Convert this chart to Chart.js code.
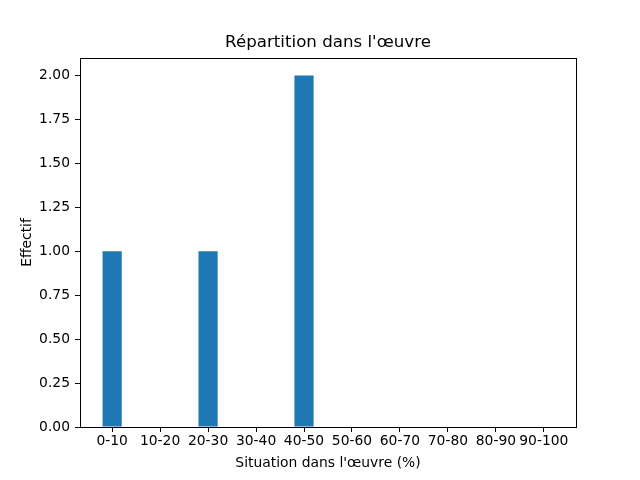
<!DOCTYPE html>
<html>
<head>
<meta charset="utf-8">
<script src="https://cdn.jsdelivr.net/npm/chart.js@4"></script>
<style>
  body { margin: 0; background: #fff; }
  #zone { width: 640px; height: 480px; }
</style>
</head>
<body>
<div id="zone"><canvas id="graphique" width="640" height="480"></canvas></div>
<script>
// Données
const categories = ['0-10', '10-20', '20-30', '30-40', '40-50', '50-60', '60-70', '70-80', '80-90', '90-100'];
const effectifs = [1, 0, 1, 0, 2, 0, 0, 0, 0, 0];
const ticksY = [0, 0.25, 0.5, 0.75, 1, 1.25, 1.5, 1.75, 2];

const titre = "Répartition dans l'œuvre";
const titreX = "Situation dans l'œuvre (%)";
const titreY = 'Effectif';

Chart.defaults.font.family = "'DejaVu Sans', sans-serif";
Chart.defaults.font.size = 13.89;
Chart.defaults.color = '#000';

// cadre autour de la zone + titre centré sur les axes
const cadre = {
    id: 'cadre',
    afterDraw(chart) {
        const { ctx, chartArea: a } = chart;
        ctx.save();
        ctx.strokeStyle = '#000';
        ctx.lineWidth = 1;
        ctx.strokeRect(Math.round(a.left) + 0.5, Math.round(a.top) + 0.5,
            Math.round(a.right - a.left), Math.round(a.bottom - a.top));
        ctx.font = "16.67px 'DejaVu Sans'";
        ctx.fillStyle = '#000';
        ctx.textAlign = 'center';
        ctx.textBaseline = 'middle';
        ctx.fillText(titre, (a.left + a.right) / 2, 43);
        ctx.restore();
    }
};

const grille = { display: true, offset: false, drawOnChartArea: false, drawTicks: true, tickLength: 5, color: '#000', lineWidth: 1 };

new Chart(document.getElementById('graphique'), {
    type: 'bar',
    data: {
        datasets: [{
            data: effectifs.map((v, i) => ({ x: i, y: v })),
            backgroundColor: '#1f77b4',
            borderWidth: 0,
            barPercentage: 0.4,
            categoryPercentage: 1
        }]
    },
    options: {
        responsive: false,
        animation: false,
        layout: { padding: { top: 58, right: 64, left: 0, bottom: 0 } },
        plugins: { legend: { display: false }, tooltip: { enabled: false }, title: { display: false } },
        scales: {
            x: {
                type: 'linear',
                offset: false,
                min: -0.67,
                max: 9.67,
                grid: grille,
                border: { display: false },
                afterBuildTicks: axe => { axe.ticks = categories.map((c, i) => ({ value: i })); },
                afterFit: axe => { axe.height = 53; },
                ticks: { padding: 1, maxRotation: 0, autoSkip: false, callback: v => categories[v] },
                title: { display: true, text: titreX, padding: { top: 0, bottom: 8 } }
            },
            y: {
                min: 0,
                max: 2.1,
                grid: grille,
                border: { display: false },
                afterBuildTicks: axe => { axe.ticks = ticksY.map(v => ({ value: v })); },
                afterFit: axe => { axe.width = 80; },
                ticks: { padding: 5, callback: v => v.toFixed(2) },
                title: { display: true, text: titreY, padding: { top: 19, bottom: 0 } }
            }
        }
    },
    plugins: [cadre]
});
</script>
</body>
</html>
